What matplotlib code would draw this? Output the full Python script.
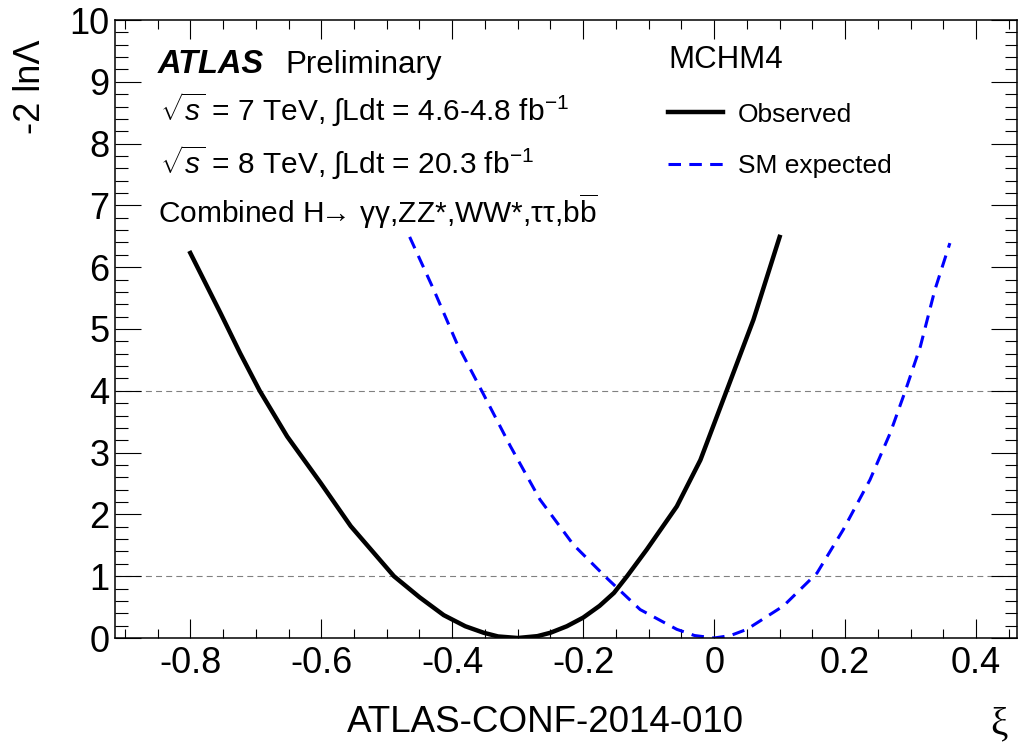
import matplotlib
matplotlib.use('Agg')
import matplotlib.pyplot as plt
from matplotlib.ticker import MultipleLocator, FuncFormatter

plt.rcParams['font.family'] = ['Liberation Sans', 'DejaVu Sans']
plt.rcParams['mathtext.fontset'] = 'custom'
plt.rcParams['mathtext.rm'] = 'Liberation Sans'
plt.rcParams['mathtext.it'] = 'Liberation Sans:italic'
plt.rcParams['mathtext.bf'] = 'Liberation Sans:bold'
plt.rcParams['axes.unicode_minus'] = False
plt.rcParams['lines.scale_dashes'] = False

# observed -2 ln Lambda vs xi (MCHM4)
xi_obs = [-0.80, -0.754, -0.724, -0.694, -0.652, -0.601, -0.555, -0.489, -0.45, -0.413,
          -0.38, -0.352, -0.33, -0.30, -0.27, -0.25, -0.225, -0.20, -0.175, -0.153,
          -0.133, -0.103, -0.057, -0.021, 0.019, 0.06, 0.10]
nll_obs = [6.23, 5.26, 4.61, 4.00, 3.26, 2.51, 1.81, 1.00, 0.66, 0.37,
           0.19, 0.085, 0.025, 0.00, 0.03, 0.085, 0.19, 0.33, 0.52, 0.73,
           1.00, 1.43, 2.13, 2.88, 4.00, 5.15, 6.49]

# SM expected
xi_exp = [-0.465, -0.428, -0.393, -0.355, -0.311, -0.266, -0.215, -0.164, -0.113, -0.057,
          -0.03, 0.00, 0.025, 0.05, 0.106, 0.157, 0.197, 0.238, 0.269, 0.292,
          0.315, 0.337, 0.36]
nll_exp = [6.49, 5.63, 4.77, 4.00, 3.10, 2.24, 1.51, 0.97, 0.46, 0.14,
           0.04, 0.00, 0.04, 0.14, 0.52, 1.05, 1.75, 2.56, 3.32, 4.00,
           4.72, 5.63, 6.39]

ref_levels = [1, 4]

fig = plt.figure(figsize=(10.18, 7.42), dpi=100)
ax = fig.add_axes([115/1018, 104/742, 902/1018, 618/742])

ax.plot(xi_obs, nll_obs, color='black', lw=3.2, label='Observed', solid_joinstyle='round')
ax.plot(xi_exp, nll_exp, color='blue', lw=2.2, dashes=(9, 6), label='SM expected')
for lv in ref_levels:
    ax.axhline(lv, color='#808080', lw=0.8, dashes=(4.3, 3), zorder=1)

ax.set_xlim(-0.915, 0.4625)
ax.set_ylim(0, 10)
ax.xaxis.set_major_locator(MultipleLocator(0.2))
ax.xaxis.set_minor_locator(MultipleLocator(0.05))
ax.yaxis.set_major_locator(MultipleLocator(1))
ax.yaxis.set_minor_locator(MultipleLocator(0.2))
ax.xaxis.set_major_formatter(FuncFormatter(lambda v, p: f'{round(v, 2) + 0.0:g}'))
ax.yaxis.set_major_formatter(FuncFormatter(lambda v, p: f'{round(v) + 0:d}'))
ax.tick_params(which='both', direction='in', top=True, right=True, labelsize=26, width=0.8)
ax.tick_params(axis='x', which='major', length=13.7, pad=6)
ax.tick_params(axis='x', which='minor', length=6.5)
ax.tick_params(axis='y', which='major', length=18.7, pad=4)
ax.tick_params(axis='y', which='minor', length=9)
for s in ax.spines.values():
    s.set_linewidth(1.1)

ax.set_xlabel('ξ', fontsize=28, family='Liberation Serif', loc='right')
ax.xaxis.set_label_coords((1008 - 115) / 902, (638 - 706) / 618)
ax.set_ylabel('-2 lnΛ', fontsize=26, loc='top')
ax.yaxis.set_label_coords((47.6 - 115) / 902, (638 - 40) / 618)

def px(x, y):
    return x / 1018, 1 - y / 742

fig.text(*px(158, 73), 'ATLAS', fontsize=23.5, fontweight='bold', fontstyle='italic', va='baseline')
fig.text(*px(285, 73), 'Preliminary', fontsize=22.5, va='baseline')
fig.text(*px(160, 120), r'$\sqrt{s}$ = 7 TeV, $\int$Ldt = 4.6-4.8 fb$^{-1}$', fontsize=21.5, va='baseline')
fig.text(*px(160, 173), r'$\sqrt{s}$ = 8 TeV, $\int$Ldt = 20.3 fb$^{-1}$', fontsize=21.5, va='baseline')
fig.text(*px(158, 223), r'Combined H$\!\!\rightarrow\!$ γγ,ZZ*,WW*,ττ,b$\overline{\mathrm{b}}$',
         fontsize=21.5, va='baseline')

fig.text(*px(347, 732), 'ATLAS-CONF-2014-010', fontsize=26.5, va='baseline')

ax.legend(title='MCHM4', loc='upper left', bbox_to_anchor=((668 - 115) / 902, (638 - 45) / 618),
          frameon=False, fontsize=19, title_fontsize=22.5, alignment='left',
          handlelength=2.1, handletextpad=0.55, labelspacing=1.05,
          borderpad=0, borderaxespad=0)

fig.savefig('out.png', dpi=100)
